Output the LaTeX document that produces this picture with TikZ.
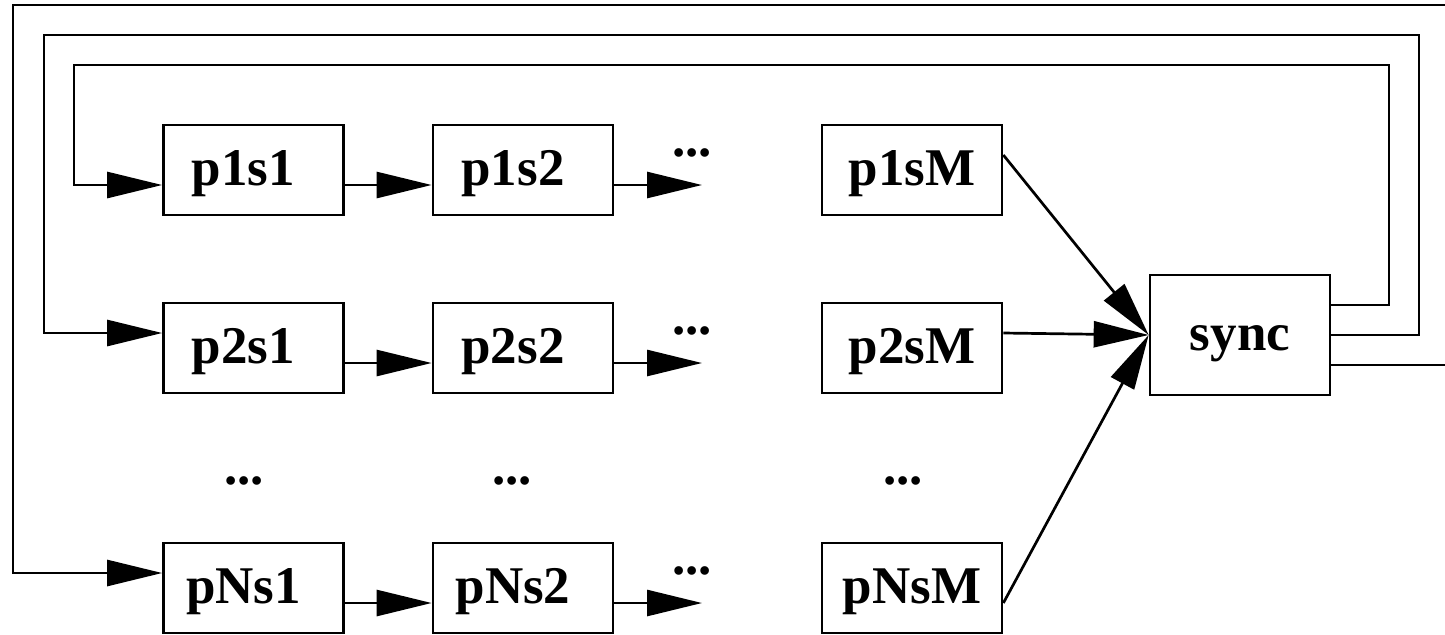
\documentclass[tikz,border=0pt]{standalone}
\usepackage{fontspec}
\setmainfont{Liberation Serif}
\usetikzlibrary{arrows.meta}
\begin{document}
\begin{tikzpicture}[x=0.5pt,y=-0.5pt,
  line width=1.35pt,
  lbl/.style={font=\fontsize{26.5}{30}\selectfont\bfseries},
  stage/.style={lbl, draw, rectangle, minimum width=90pt, minimum height=45pt,
    inner sep=0pt, text height=20pt, text depth=5pt},
  syncbox/.style={stage, minimum height=60pt},
  dots/.style={lbl, inner sep=0pt, anchor=base},
  arr/.style={-{Triangle[length=27.5pt,width=13pt]}},
]
\clip (0,0) rectangle (1445,634);

% pipeline stages: one row per pipeline, one column per stage
\node[stage] (p1s1) at (253.5,170) {p1s1\kern10pt};
\node[stage] (p1s2) at (523,170)   {p1s2\kern10pt};
\node[stage] (p1sM) at (912,170)   {p1sM};
\node[stage] (p2s1) at (253.5,348) {p2s1\kern10pt};
\node[stage] (p2s2) at (523,348)   {p2s2\kern10pt};
\node[stage] (p2sM) at (912,348)   {p2sM};
\node[stage] (pNs1) at (253.5,588) {pNs1\kern10pt};
\node[stage] (pNs2) at (523,588)   {pNs2\kern10pt};
\node[stage] (pNsM) at (912,588)   {pNsM};
\node[syncbox] (sync) at (1240,335) {sync};

% elided stages and pipelines
\node[dots] (d1) at (692,156) {...};
\node[dots] (d2) at (692,334) {...};
\node[dots] (dN) at (692,574) {...};
\node[dots] (v1) at (244,484) {...};
\node[dots] (v2) at (512,484) {...};
\node[dots] (vM) at (903,484) {...};
\coordinate (e1) at (702,185);
\coordinate (e2) at (702,363);
\coordinate (eN) at (702,603);

% flow along each pipeline
\draw[arr] ([yshift=-7.5pt]p1s1.east) -- ([yshift=-7.5pt]p1s2.west);
\draw[arr] ([yshift=-7.5pt]p1s2.east) -- (e1);
\draw[arr] ([yshift=-7.5pt]p2s1.east) -- ([yshift=-7.5pt]p2s2.west);
\draw[arr] ([yshift=-7.5pt]p2s2.east) -- (e2);
\draw[arr] ([yshift=-7.5pt]pNs1.east) -- ([yshift=-7.5pt]pNs2.west);
\draw[arr] ([yshift=-7.5pt]pNs2.east) -- (eN);

% last stages feed the barrier
\draw[arr] ([yshift=7.5pt]p1sM.east) -- (sync.west);
\draw[arr] ([yshift=7.5pt]p2sM.east) -- (sync.west);
\draw[arr] ([yshift=-7.5pt]pNsM.east) -- (sync.west);

% feedback from the barrier to the first stages
\draw[arr] ([yshift=15pt]sync.east) -- (1389,305) -- (1389,65) -- (74,65) -- (74,185)
  -- ([yshift=-7.5pt]p1s1.west);
\draw[arr] (sync.east) -- (1419,335) -- (1419,35) -- (44,35) -- (44,333)
  -- ([yshift=7.5pt]p2s1.west);
\draw[arr] ([yshift=-15pt]sync.east) -- (1475,365) -- (1475,5) -- (13,5) -- (13,573)
  -- ([yshift=7.5pt]pNs1.west);
\end{tikzpicture}
\end{document}
